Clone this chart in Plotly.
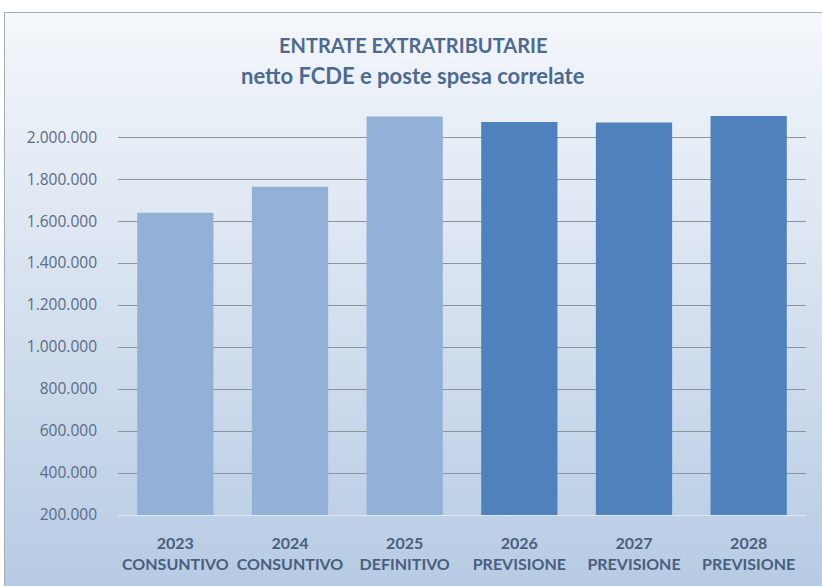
import base64
import plotly.graph_objects as go

# Entrate extratributarie, netto FCDE e poste spesa correlate (euro)
anni = ["2023", "2024", "2025", "2026", "2027", "2028"]
fasi = ["CONSUNTIVO", "CONSUNTIVO", "DEFINITIVO", "PREVISIONE", "PREVISIONE", "PREVISIONE"]
importi = [1640000, 1763000, 2098000, 2072000, 2070000, 2100000]
colori = ["#93b1d6", "#93b1d6", "#93b1d6", "#4f81bd", "#4f81bd", "#4f81bd"]

tick_vals = list(range(200000, 2000001, 200000))
tick_text = [f"{v:,}".replace(",", ".") for v in tick_vals]
categorie = [f"{a}<br>{f}" for a, f in zip(anni, fasi)]

titolo = "ENTRATE EXTRATRIBUTARIE"
sottotitolo = "netto FCDE e poste spesa correlate"

W, H = 822, 586
M_L, M_R, M_T, M_B = 118, 16, 114, 71
PW, PH = W - M_L - M_R, H - M_T - M_B


def px_to_paper_x(px):
    return (px - M_L) / PW


def px_to_paper_y(py):
    return (H - M_B - py) / PH


# vertical background gradient for the chart area
svg = (
    '<svg xmlns="http://www.w3.org/2000/svg" width="100" height="100" preserveAspectRatio="none">'
    '<defs><linearGradient id="g" x1="0" y1="0" x2="0" y2="1">'
    '<stop offset="0" stop-color="#f4f7fb"/>'
    '<stop offset="0.5" stop-color="#d6e1ef"/>'
    '<stop offset="1" stop-color="#b6cbe4"/>'
    '</linearGradient></defs>'
    '<rect width="100" height="100" fill="url(#g)"/></svg>'
)
svg_uri = "data:image/svg+xml;base64," + base64.b64encode(svg.encode()).decode()

bx0, bx1 = px_to_paper_x(4.5), px_to_paper_x(W + 2)
by0, by1 = px_to_paper_y(H + 2), px_to_paper_y(12.5)
cx = px_to_paper_x(413)

fig = go.Figure(
    go.Bar(
        x=categorie,
        y=importi,
        marker=dict(color=colori, line=dict(width=0)),
        width=0.665,
        hoverinfo="skip",
    )
)

title_color = "#4d6a93"
fig.update_layout(
    width=W,
    height=H,
    margin=dict(l=M_L, r=M_R, t=M_T, b=M_B),
    paper_bgcolor="white",
    plot_bgcolor="rgba(0,0,0,0)",
    showlegend=False,
    font=dict(family="Lato, 'Open Sans', sans-serif", color="#4a5f7e"),
    annotations=[
        dict(
            text=titolo,
            xref="paper", yref="paper",
            x=cx, y=px_to_paper_y(45),
            xanchor="center", yanchor="middle",
            showarrow=False,
            font=dict(family="Lato, sans-serif", size=20, color=title_color, weight="bold"),
        ),
        dict(
            text=sottotitolo,
            xref="paper", yref="paper",
            x=cx, y=px_to_paper_y(76),
            xanchor="center", yanchor="middle",
            showarrow=False,
            font=dict(family="Lato, sans-serif", size=22, color=title_color, weight="bold"),
        ),
    ],
    images=[
        dict(
            source=svg_uri,
            xref="paper",
            yref="paper",
            x=bx0,
            y=by1,
            sizex=bx1 - bx0,
            sizey=by1 - by0,
            xanchor="left",
            yanchor="top",
            sizing="stretch",
            layer="below",
        )
    ],
    shapes=[
        dict(
            type="rect",
            xref="paper",
            yref="paper",
            x0=bx0,
            x1=bx1,
            y0=by0,
            y1=by1,
            line=dict(color="#a3abb5", width=1),
            fillcolor="rgba(0,0,0,0)",
            layer="below",
        )
    ],
)

fig.update_xaxes(
    showgrid=False,
    showline=True,
    linecolor="#dfe7f1",
    linewidth=1,
    ticks="",
    tickangle=0,
    automargin=False,
    tickfont=dict(family="Lato, sans-serif", size=16, color="#4a5f7e", weight="bold"),
    ticklabelstandoff=14,
)
fig.update_yaxes(
    range=[200000, 2110000],
    tickvals=tick_vals,
    ticktext=tick_text,
    automargin=False,
    showgrid=True,
    gridcolor="#8f949b",
    gridwidth=1,
    zeroline=False,
    showline=False,
    ticks="",
    tickfont=dict(family="'Open Sans', sans-serif", size=15.5, color="#5b6c84"),
    ticklabelstandoff=20,
)

fig.write_html("out.html")
